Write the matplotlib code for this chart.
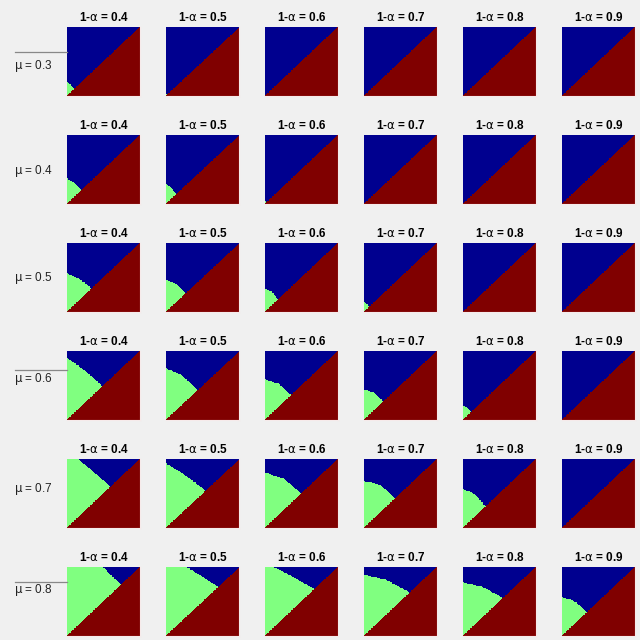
import numpy as np
import matplotlib

matplotlib.use("Agg")
import matplotlib.pyplot as plt
from matplotlib.colors import ListedColormap
from matplotlib.lines import Line2D

plt.rcParams["font.family"] = ["Liberation Sans", "DejaVu Sans"]

mu_values = [0.3, 0.4, 0.5, 0.6, 0.7, 0.8]
conf_levels = [0.4, 0.5, 0.6, 0.7, 0.8, 0.9]

# green region boundary per panel (rows = mu, cols = 1-alpha):
# height at the left edge, height half way to the diagonal, point where it meets the diagonal
edge_height = [
    [0.21, 0.04, 0.00, 0.00, 0.00, 0.00],
    [0.37, 0.29, 0.05, 0.00, 0.00, 0.00],
    [0.56, 0.47, 0.34, 0.15, 0.00, 0.00],
    [0.90, 0.75, 0.59, 0.44, 0.21, 0.00],
    [1.13, 0.94, 0.80, 0.68, 0.56, 0.00],
    [1.53, 1.20, 1.07, 0.89, 0.78, 0.56],
]
mid_height = [
    [0.17, 0.03, 0.00, 0.00, 0.00, 0.00],
    [0.31, 0.24, 0.04, 0.00, 0.00, 0.00],
    [0.48, 0.41, 0.30, 0.12, 0.00, 0.00],
    [0.72, 0.65, 0.53, 0.40, 0.18, 0.00],
    [0.87, 0.76, 0.72, 0.63, 0.50, 0.00],
    [1.13, 0.95, 0.88, 0.81, 0.71, 0.51],
]
diag_meet = [
    [0.10, 0.02, 0.00, 0.00, 0.00, 0.00],
    [0.20, 0.14, 0.03, 0.00, 0.00, 0.00],
    [0.34, 0.27, 0.18, 0.07, 0.00, 0.00],
    [0.49, 0.43, 0.36, 0.27, 0.12, 0.00],
    [0.60, 0.54, 0.50, 0.43, 0.31, 0.00],
    [0.74, 0.71, 0.68, 0.63, 0.55, 0.34],
]

# rows that carry a stray grey tick line left of the panel, and its height in axes units
marker_rows = {0: 0.64, 3: 0.72, 5: 0.78}
label_heights = [0.43, 0.48, 0.49, 0.60, 0.57, 0.66]

cmap = ListedColormap(["#00008f", "#80ff80", "#800000"])
n_grid = 100
centers = (np.arange(n_grid) + 0.5) / n_grid
gx, gy = np.meshgrid(centers, centers)

W = H = 640
fig = plt.figure(figsize=(6.4, 6.4), dpi=100, facecolor="#f0f0f0")

for i, mu in enumerate(mu_values):
    top = 27 + 108 * i
    for j, level in enumerate(conf_levels):
        left = 67 + 99 * j
        ax = fig.add_axes([left / W, (H - top - 69) / H, 73 / W, 69 / H])
        d = diag_meet[i][j]
        boundary = np.interp(gx, [0.0, d / 2, d], [edge_height[i][j], mid_height[i][j], d])
        classes = np.zeros_like(gx, dtype=int)
        classes[(gy > gx) & (gy < boundary)] = 1
        classes[gy <= gx] = 2
        ax.imshow(classes, cmap=cmap, vmin=0, vmax=2, origin="lower",
                  extent=[0, 1, 0, 1], aspect="auto", interpolation="nearest")
        ax.set_xticks([])
        ax.set_yticks([])
        for side in ["top", "left"]:
            ax.spines[side].set_visible(False)
        for side in ["right", "bottom"]:
            ax.spines[side].set_color("#f6eaea")
            ax.spines[side].set_linewidth(0.8)
        ax.set_title(rf"1-$\mathrm{{\alpha}}$ = {level}", fontsize=8.5, fontweight="bold", pad=4)
        if j == 0:
            ax.text(-0.72, label_heights[i], rf"$\mathrm{{\mu}}$ = {mu}", transform=ax.transAxes,
                    fontsize=8.5, ha="left", va="center", color="#222222")
            if i in marker_rows:
                yy = marker_rows[i]
                ax.add_line(Line2D([-0.71, 0.0], [yy, yy], transform=ax.transAxes,
                                   color="#888888", linewidth=0.9, clip_on=False))

fig.savefig("out.png", dpi=100, facecolor=fig.get_facecolor())
